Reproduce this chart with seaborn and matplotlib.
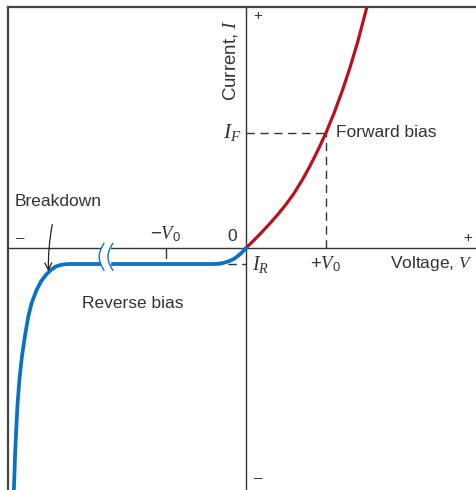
import numpy as np
import pandas as pd
import matplotlib
matplotlib.use('Agg')
import matplotlib.pyplot as plt
from matplotlib.patches import Rectangle
import seaborn as sns

# forward branch (V in units of V0, I in arbitrary units)
fwd_v = [0.0, 0.1, 0.2, 0.3, 0.4, 0.5, 0.6, 0.7, 0.8, 0.9, 1.0,
         1.1, 1.2, 1.3, 1.4, 1.5, 1.55]
fwd_i = [0.0, 0.098, 0.2, 0.308, 0.422, 0.545, 0.683, 0.845, 1.025, 1.225, 1.44,
         1.685, 1.955, 2.255, 2.59, 2.97, 3.18]

# reverse branch, including breakdown
rev_v = [0.0, -0.05, -0.1, -0.15, -0.2, -0.25, -0.3, -0.35, -0.4,
         -2.2, -2.26, -2.32, -2.38, -2.44, -2.5, -2.56, -2.62, -2.68,
         -2.72, -2.76, -2.8, -2.83, -2.855, -2.873, -2.887, -2.897, -2.905]
rev_i = [0.0, -0.055, -0.1, -0.135, -0.16, -0.177, -0.19, -0.197, -0.2,
         -0.2, -0.203, -0.212, -0.233, -0.275, -0.335, -0.415, -0.53, -0.69,
         -0.85, -1.08, -1.35, -1.62, -1.94, -2.28, -2.6, -2.9, -3.1]

v0 = 1.0
i_f = 1.44
i_r = -0.2
i_r_v = -0.4
break_v = [-1.81, -1.70]

fwd = pd.DataFrame({'V': fwd_v, 'I': fwd_i})
rev = pd.DataFrame({'V': rev_v, 'I': rev_i})

sns.set_style('white')
plt.rcParams['font.family'] = ['Liberation Sans', 'DejaVu Sans']
plt.rcParams['mathtext.fontset'] = 'custom'
plt.rcParams['mathtext.rm'] = 'Liberation Sans'
plt.rcParams['mathtext.it'] = 'Liberation Serif:italic'

txt = '#333333'
red = '#b8111c'
blue = '#0a72c4'

fig = plt.figure(figsize=(4.76, 4.90), dpi=100)
ax = fig.add_axes([8 / 476, 0, 468 / 476, 483 / 490])
ax.set_xlim(-2.975, 2.875)
ax.set_ylim(-3.025, 3.0125)

for side in ['right', 'bottom']:
    ax.spines[side].set_visible(False)
for side in ['top', 'left']:
    ax.spines[side].set_color('#444444')
    ax.spines[side].set_linewidth(1.6)
ax.set_xticks([])
ax.set_yticks([])

# axes through origin
ax.axhline(0, color='#333333', lw=1.0, zorder=1)
ax.axvline(0, color='#333333', lw=1.0, zorder=1)

# dashed guides
ax.plot([0, v0], [i_f, i_f], ls=(0, (6, 4)), color='#333333', lw=1.0)
ax.plot([v0, v0], [0, i_f], ls=(0, (6, 4)), color='#333333', lw=1.0)
ax.plot([i_r_v, 0], [i_r, i_r], ls=(0, (6, 4)), color='#333333', lw=1.0)
ax.plot([-v0, -v0], [0, -0.12], color='#333333', lw=1.0)

sns.lineplot(data=fwd, x='V', y='I', sort=False, color=red, lw=2.3, ax=ax, zorder=3)
sns.lineplot(data=rev, x='V', y='I', sort=False, color=blue, lw=2.7, ax=ax, zorder=3)
ax.set_xlabel('')
ax.set_ylabel('')

# axis break marks
ax.add_patch(Rectangle((break_v[0], -0.28), break_v[1] - break_v[0], 0.34,
                       color='white', zorder=4))
t = np.linspace(0, 1, 40)
for x0 in break_v:
    bx = x0 + 0.035 - 0.06 * np.sin(np.pi * t)
    by = 0.06 - 0.34 * t
    ax.plot(bx, by, color=blue, lw=1.0, zorder=5)

# labels
fs = 12.5
ax.text(0.15, 2.9, '+', fontsize=11, color=txt, ha='center', va='center')
ax.text(0.15, -2.88, '–', fontsize=11, color=txt, ha='center', va='center')
ax.text(-2.82, 0.13, '–', fontsize=11, color=txt, ha='center', va='center')
ax.text(2.77, 0.13, '+', fontsize=11, color=txt, ha='center', va='center')
ax.text(-0.17, 0.05, '0', fontsize=fs, color=txt, ha='center', va='bottom')
ax.text(-1.0, 0.05, r'$-V_0$', fontsize=fs + 1, color=txt, ha='center', va='bottom')
ax.text(-0.2, 2.35, r'Current, $I$', fontsize=13.5, color=txt, ha='center', va='center', rotation=90)
ax.text(-0.05, i_f, r'$I_F$', fontsize=fs + 3, color=txt, ha='right', va='center')
ax.text(1.12, i_f, 'Forward bias', fontsize=fs, color=txt, ha='left', va='center')
ax.text(0.07, -0.08, r'$I_R$', fontsize=fs + 2, color=txt, ha='left', va='top')
ax.text(v0, -0.08, r'$+V_0$', fontsize=fs + 1, color=txt, ha='center', va='top')
ax.text(1.8, -0.08, r'Voltage, $V$', fontsize=fs, color=txt, ha='left', va='top')
ax.text(-1.42, -0.7, 'Reverse bias', fontsize=fs, color=txt, ha='center', va='center')
ax.annotate('Breakdown', xy=(-2.47, -0.29), xytext=(-2.35, 0.58),
            fontsize=fs, color=txt, ha='center', va='center',
            arrowprops=dict(arrowstyle='->', color='#222222', lw=0.9,
                            connectionstyle='arc3,rad=0.08',
                            shrinkA=9, shrinkB=0))

fig.savefig('out.png', dpi=100)
